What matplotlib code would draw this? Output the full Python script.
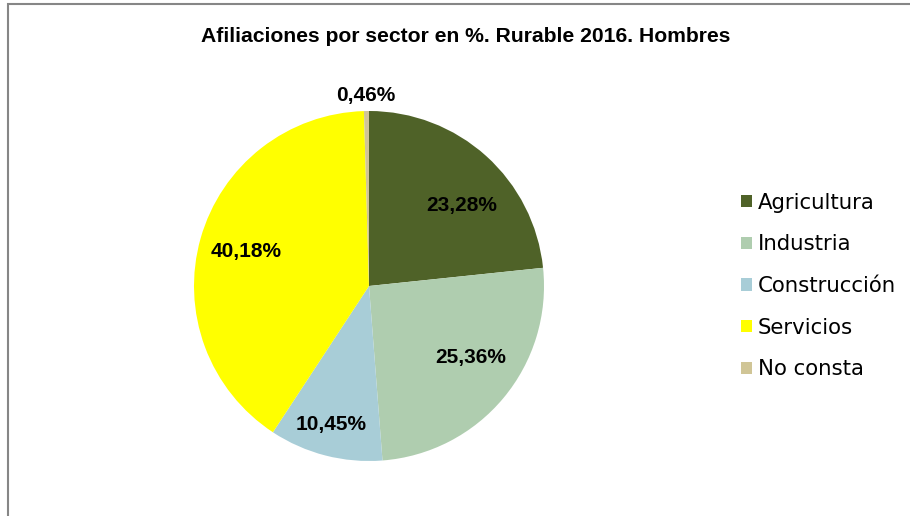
"""Afiliaciones por sector, Rurable 2016, hombres -- pie chart."""
import numpy as np
import matplotlib.pyplot as plt
from matplotlib.patches import Rectangle

sectors = ["Agricultura", "Industria", "Construcción", "Servicios", "No consta"]
shares = [23.28, 25.36, 10.45, 40.18, 0.46]
pct_labels = ["23,28%", "25,36%", "10,45%", "40,18%", "0,46%"]
colors = ["#4F6228", "#AFCDAF", "#A8CDD7", "#FFFF00", "#D0C596"]

# value label placement: radius (fraction of pie radius) and angle shift in degrees
label_r = [0.70, 0.71, 0.82, 0.73, 1.09]
label_shift = [-7, 4.7, -1, 0, 0]


def main():
    fig = plt.figure(figsize=(9.10, 5.16), dpi=100)
    W, H = 910, 516
    # frame of the chart area
    fig.add_artist(Rectangle((8 / W, -0.1), 1.2, (H - 4) / H + 0.1, transform=fig.transFigure,
                             fill=False, edgecolor="#868686", lw=1.5))

    ax = fig.add_axes([194 / W, 55 / H, 350 / W, 350 / H])
    wedges, _ = ax.pie(shares, colors=colors, startangle=90, counterclock=False,
                       radius=1.0, wedgeprops=dict(linewidth=0))
    ax.set_xlim(-1, 1); ax.set_ylim(-1, 1); ax.set_aspect("equal")
    ax.axis("off")

    for w, lab, r, d in zip(wedges, pct_labels, label_r, label_shift):
        mid = np.deg2rad((w.theta1 + w.theta2) / 2 + d)
        ax.text(r * np.cos(mid), r * np.sin(mid), lab, ha="center", va="center",
                fontsize=15, fontweight="bold", family="Liberation Sans", clip_on=False)

    fig.text(466 / W, 1 - 37 / H, "Afiliaciones por sector en %. Rurable 2016. Hombres",
             ha="center", va="center", fontsize=15.2, fontweight="bold", family="Liberation Sans")

    handles = [Rectangle((0, 0), 1, 1, facecolor=c, edgecolor="none") for c in colors]
    fig.legend(handles, sectors, loc="center left", bbox_to_anchor=(741 / W, 1 - 286 / H),
               frameon=False, prop=dict(family="DejaVu Sans", size=15.3),
               handlelength=0.5, handleheight=0.5, handletextpad=0.3, labelspacing=1.02,
               borderpad=0, borderaxespad=0)

    fig.savefig("out.png", dpi=100)


if __name__ == "__main__":
    main()
